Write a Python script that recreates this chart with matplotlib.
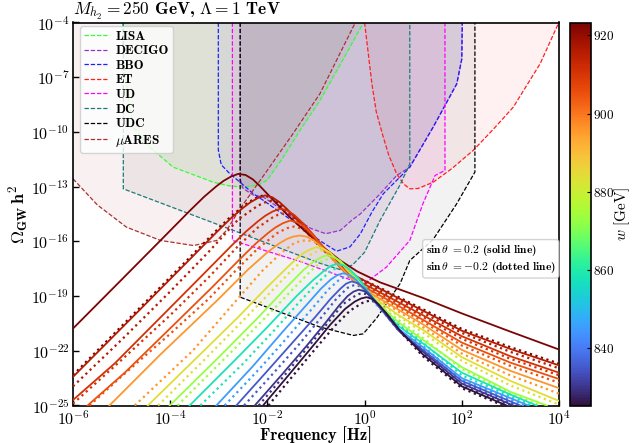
import numpy as np
import matplotlib
matplotlib.use("Agg")
import matplotlib.pyplot as plt
from matplotlib.colors import Normalize
from matplotlib.cm import ScalarMappable
from matplotlib.ticker import FixedLocator, FuncFormatter, NullLocator

plt.rcParams["mathtext.fontset"] = "cm"
plt.rcParams["font.family"] = "serif"
plt.rcParams["font.serif"] = ["cmb10", "DejaVu Serif"]
plt.rcParams["axes.unicode_minus"] = False

# --------------------------
# detector sensitivity curves (log10 f [Hz], log10 Omega h^2)
# --------------------------
LISA_f = [-4.98, -4.95, -4.86, -4.76, -4.42, -3.94, -3.39, -3.11, -2.8, -2.5, -2.2, -2.01, -1.7, -1.33, -0.92, -0.5, -0.03]
LISA_om = [-4.0, -6.45, -8.28, -9.74, -10.84, -11.93, -12.48, -12.76, -12.95, -13.03, -12.92, -12.66, -11.5, -9.92, -8.28, -6.3, -4.04]

DECIGO_f = [-2.56, -2.56, -2.5, -2.3, -2.08, -1.53, -1.1, -0.8, -0.5, -0.27, -0.09, 0.3, 0.66, 0.93, 1.41, 1.9, 2.0, 2.01]
DECIGO_om = [-4.0, -12.6, -13.1, -13.45, -13.58, -14.58, -15.3, -15.58, -15.4, -14.86, -14.5, -13.45, -12.39, -11.93, -9.74, -7.36, -6.0, -4.0]

BBO_f = [-3.01, -3.01, -2.95, -2.77, -2.5, -2.29, -2.08, -1.4, -0.9, -0.575, -0.3, -0.09, 0.15, 0.385, 0.93, 1.41, 1.895, 2.0, 2.01]
BBO_om = [-4.0, -11.0, -11.8, -12.3, -12.9, -13.39, -13.76, -15.04, -16.0, -16.54, -16.3, -15.6, -14.4, -13.39, -11.93, -9.74, -7.36, -6.0, -4.0]

ET_f = [0.0, 0.08, 0.15, 0.24, 0.385, 0.5, 0.66, 0.8, 0.93, 1.1, 1.41, 1.8, 2.24, 2.65, 3.06, 3.61, 3.99]
ET_om = [-4.0, -5.8, -7.36, -8.9, -10.29, -11.3, -12.3, -12.85, -13.12, -13.1, -12.76, -12.0, -11.0, -9.85, -8.64, -6.27, -4.04]

UD_f = [-2.72, -2.72, -1.33, -0.3, 0.04, 0.45, 0.93, 1.2, 1.45, 1.654, 1.654]
UD_om = [-4.0, -15.95, -17.1, -18.1, -18.24, -17.41, -15.95, -13.94, -12.39, -12.11, -4.0]

DC_f = [-4.965, -4.965, -2.7, -0.92, -0.5, -0.25, 0.0, 0.317, 0.73, 0.93, 0.93]
DC_om = [-4.0, -13.12, -15.4, -17.2, -17.55, -17.3, -16.6, -14.86, -12.9, -11.75, -4.0]

UDC_f = [-2.56, -2.56, -0.918, -0.23, -0.027, 0.25, 0.73, 0.93, 1.41, 1.895, 2.27, 2.27]
UDC_om = [-4.0, -19.06, -20.7, -21.16, -21.07, -20.2, -18.32, -17.05, -15.9, -13.94, -12.2, -4.0]

MUARES_f = [-6.0, -5.5, -4.9, -4.2, -3.52, -3.04, -2.84, -2.56, -2.0, -1.5, -0.92, -0.19]
MUARES_om = [-12.57, -14.0, -15.22, -15.95, -16.23, -15.95, -15.4, -14.2, -12.1, -10.2, -7.91, -4.0]

# --------------------------
# GW spectra, one per w [GeV]; solid: sin(theta)=0.2, dotted: sin(theta)=-0.2
# --------------------------
W_VALUES = [923, 916, 911, 905, 896, 884, 873, 858, 845, 835, 830, 825.5]
W_MIN, W_MAX = 825.4, 923.3

f_923 = [-6.0, -5.0, -4.2, -3.6, -3.3, -3.05, -2.9, -2.75, -2.6, -2.45, -2.3, -2.15, -1.9, -1.55, -1.2, -0.85, -0.5, -0.15, 0.32, 1.2, 2.0, 3.0, 4.0]
om_923 = [-20.78, -18.1, -15.95, -14.33, -13.55, -12.98, -12.68, -12.45, -12.3, -12.36, -12.6, -12.98, -13.68, -14.65, -15.5, -16.32, -17.05, -17.65, -18.25, -19.1, -19.95, -20.95, -21.93]
f_916 = [-6.0, -5.45, -4.45, -3.65, -3.05, -2.75, -2.5, -2.35, -2.2, -2.05, -1.9, -1.75, -1.6, -1.4, -1.2, -0.85, -0.5, -0.15, 0.32, 1.2, 2.0, 3.0, 4.0]
om_916 = [-23.43, -21.96, -19.28, -17.13, -15.51, -14.73, -14.16, -13.86, -13.63, -13.48, -13.58, -13.85, -14.22, -14.78, -15.35, -16.38, -17.25, -17.95, -18.6, -19.8, -20.9, -21.9, -22.8]
f_911 = [-6.0, -5.14, -4.14, -3.34, -2.74, -2.44, -2.19, -2.04, -1.89, -1.74, -1.6, -1.45, -1.25, -1.05, -0.85, -0.5, -0.15, 0.32, 1.2, 2.0, 3.0, 4.0]
om_911 = [-24.7, -22.69, -20.01, -17.86, -16.24, -15.46, -14.89, -14.59, -14.36, -14.21, -14.3, -14.55, -15.05, -15.65, -16.3, -17.35, -18.15, -18.8, -20.05, -21.2, -22.3, -23.2]
f_905 = [-5.7, -4.935, -3.935, -3.135, -2.535, -2.235, -1.985, -1.835, -1.685, -1.535, -1.4, -1.25, -1.05, -0.85, -0.5, -0.15, 0.32, 1.2, 2.0, 3.0, 4.0]
om_905 = [-25.0, -23.2, -20.6, -18.51, -16.89, -16.11, -15.54, -15.24, -15.01, -14.86, -14.94, -15.18, -15.7, -16.35, -17.45, -18.3, -18.97, -20.3, -21.55, -22.65, -23.55]
f_896 = [-5.25, -4.2, -3.0, -2.4, -2.0, -1.75, -1.6, -1.47, -1.33, -1.2, -1.05, -0.85, -0.6, -0.3, 0.0, 0.32, 1.2, 2.0, 3.0, 4.0]
om_896 = [-25.0, -22.2, -19.15, -17.55, -16.6, -16.1, -15.87, -15.74, -15.68, -15.74, -15.93, -16.4, -17.1, -17.95, -18.65, -19.15, -20.55, -21.95, -23.1, -24.05]
f_884 = [-4.46, -3.5, -2.6, -2.0, -1.6, -1.4, -1.25, -1.12, -0.99, -0.87, -0.72, -0.5, -0.3, 0.0, 0.32, 0.7, 1.2, 2.0, 3.0, 4.0]
om_884 = [-25.0, -22.5, -20.15, -18.5, -17.45, -16.95, -16.63, -16.44, -16.32, -16.38, -16.6, -17.15, -17.75, -18.7, -19.33, -20.05, -20.85, -22.35, -23.65, -24.75]
f_873 = [-4.01, -3.0, -2.2, -1.6, -1.25, -1.05, -0.9, -0.78, -0.66, -0.5, -0.3, -0.1, 0.1, 0.32, 0.7, 1.2, 2.0, 3.0, 3.75]
om_873 = [-25.0, -22.35, -20.2, -18.5, -17.55, -17.12, -16.88, -16.77, -16.83, -17.07, -17.6, -18.25, -18.9, -19.5, -20.45, -21.4, -22.9, -24.25, -25.0]
f_858 = [-3.6, -2.7, -2.0, -1.4, -1.05, -0.85, -0.7, -0.57, -0.45, -0.3, -0.1, 0.1, 0.32, 0.7, 1.2, 2.0, 3.0, 3.54]
om_858 = [-25.0, -22.6, -20.7, -19.0, -18.1, -17.65, -17.35, -17.23, -17.3, -17.55, -18.1, -18.85, -19.6, -20.65, -21.6, -23.2, -24.4, -25.0]
f_845 = [-3.05, -2.3, -1.7, -1.2, -0.9, -0.7, -0.56, -0.44, -0.32, -0.18, 0.0, 0.15, 0.32, 0.7, 1.2, 2.0, 3.37]
om_845 = [-25.0, -22.85, -21.0, -19.5, -18.6, -18.1, -17.85, -17.75, -17.82, -18.1, -18.65, -19.15, -19.65, -20.8, -21.8, -23.5, -25.0]
f_835 = [-2.64, -2.0, -1.5, -1.0, -0.7, -0.5, -0.38, -0.27, -0.15, -0.02, 0.12, 0.32, 0.7, 1.2, 2.0, 3.2]
om_835 = [-25.0, -23.1, -21.6, -20.1, -19.15, -18.6, -18.32, -18.2, -18.28, -18.55, -18.95, -19.65, -20.9, -21.95, -23.65, -25.0]
f_830 = [-2.26, -1.7, -1.2, -0.8, -0.52, -0.35, -0.23, -0.12, 0.0, 0.12, 0.3, 0.5, 0.8, 1.2, 2.0, 3.06]
om_830 = [-25.0, -23.3, -21.75, -20.45, -19.5, -19.0, -18.76, -18.65, -18.74, -19.0, -19.5, -20.2, -21.15, -22.05, -23.8, -25.0]
f_825 = [-2.09, -1.6, -1.1, -0.7, -0.4, -0.2, -0.07, 0.04, 0.15, 0.28, 0.45, 0.73, 1.2, 2.0, 2.92]
om_825 = [-25.0, -23.45, -21.85, -20.55, -19.7, -19.3, -19.13, -19.06, -19.15, -19.45, -19.95, -20.9, -22.2, -23.95, -25.0]

fd_923 = [-6.0, -5.49, -4.49, -3.69, -3.09, -2.79, -2.54, -2.39, -2.24, -2.09, -1.94, -1.79, -1.64, -1.44, -1.24, -0.89, -0.5, -0.15, 0.32, 1.2, 2.0, 3.0, 4.0]
omd_923 = [-23.33, -21.96, -19.28, -17.13, -15.51, -14.73, -14.16, -13.86, -13.63, -13.48, -13.58, -13.85, -14.22, -14.78, -15.35, -16.38, -17.3, -17.98, -18.55, -19.72, -20.8, -21.8, -22.7]
fd_916 = [-6.0, -5.0, -4.0, -3.2, -2.6, -2.2, -2.05, -1.93, -1.8, -1.6, -1.2, -0.85, -0.3, 0.32, 1.2, 2.0, 3.0, 4.0]
omd_916 = [-23.95, -21.4, -18.75, -16.55, -14.8, -14.05, -13.86, -13.78, -13.88, -14.32, -15.3, -16.4, -17.8, -18.7, -19.92, -21.02, -22.06, -22.96]
fd_911 = [-6.0, -5.0, -4.0, -3.2, -2.6, -2.2, -1.9, -1.78, -1.66, -1.52, -1.4, -1.1, -0.85, -0.3, 0.32, 1.2, 2.0, 3.0, 4.0]
omd_911 = [-24.9, -22.5, -20.05, -17.95, -16.25, -15.25, -14.7, -14.54, -14.47, -14.57, -14.8, -15.6, -16.41, -17.88, -18.87, -20.15, -21.34, -22.44, -23.34]
fd_905 = [-5.66, -5.0, -4.0, -3.2, -2.6, -2.2, -1.8, -1.6, -1.45, -1.3, -1.2, -0.85, -0.3, 0.32, 1.2, 2.0, 3.0, 4.0]
omd_905 = [-25.0, -23.4, -21.07, -19.13, -17.46, -16.4, -15.55, -15.28, -15.19, -15.3, -15.5, -16.45, -17.95, -19.04, -20.4, -21.71, -22.83, -23.75]
fd_896 = [-4.73, -3.53, -2.64, -2.1, -1.7, -1.45, -1.32, -1.2, -1.08, -0.98, -0.75, -0.3, 0.32, 1.2, 2.0, 3.0, 4.0]
omd_896 = [-25.0, -21.98, -19.24, -17.6, -16.6, -16.1, -15.98, -15.94, -15.99, -16.1, -16.7, -17.98, -19.22, -20.7, -22.15, -23.35, -24.35]
fd_884 = [-4.25, -3.3, -2.45, -1.85, -1.45, -1.15, -1.02, -0.9, -0.8, -0.7, -0.45, -0.2, 0.32, 1.2, 2.0, 3.0, 4.0]
omd_884 = [-25.0, -22.5, -20.2, -18.55, -17.45, -16.8, -16.6, -16.5, -16.54, -16.65, -17.25, -18.1, -19.42, -21.0, -22.55, -23.9, -24.95]
fd_873 = [-3.85, -2.85, -2.05, -1.45, -1.1, -0.88, -0.78, -0.7, -0.6, -0.52, -0.3, -0.1, 0.32, 1.2, 2.0, 3.0, 3.62]
omd_873 = [-25.0, -22.35, -20.2, -18.55, -17.6, -17.1, -16.99, -16.95, -16.99, -17.1, -17.65, -18.3, -19.55, -21.3, -23.0, -24.35, -25.0]
fd_858 = [-3.38, -2.5, -1.85, -1.3, -0.92, -0.68, -0.6, -0.52, -0.44, -0.35, -0.15, 0.05, 0.32, 1.2, 2.0, 3.45]
omd_858 = [-25.0, -22.7, -20.85, -19.2, -18.15, -17.6, -17.49, -17.45, -17.49, -17.58, -18.1, -18.75, -19.62, -21.55, -23.35, -25.0]
fd_845 = [-2.88, -2.15, -1.6, -1.1, -0.75, -0.52, -0.44, -0.37, -0.29, -0.2, -0.02, 0.15, 0.32, 1.2, 2.0, 3.28]
omd_845 = [-25.0, -22.95, -21.3, -19.75, -18.65, -18.1, -17.99, -17.95, -17.99, -18.1, -18.6, -19.2, -19.68, -21.75, -23.55, -25.0]
fd_835 = [-2.48, -1.85, -1.35, -0.9, -0.58, -0.35, -0.27, -0.2, -0.12, -0.05, 0.12, 0.35, 0.7, 1.2, 2.0, 3.13]
omd_835 = [-25.0, -23.15, -21.65, -20.2, -19.15, -18.55, -18.44, -18.4, -18.44, -18.55, -19.0, -19.75, -20.9, -21.9, -23.7, -25.0]
fd_830 = [-2.18, -1.65, -1.15, -0.75, -0.45, -0.2, -0.12, -0.05, 0.03, 0.1, 0.3, 0.5, 0.8, 1.2, 2.0, 3.0]
omd_830 = [-25.0, -23.35, -21.75, -20.45, -19.45, -19.0, -18.89, -18.85, -18.89, -19.0, -19.5, -20.2, -21.1, -22.1, -23.9, -25.0]
fd_825 = [-1.98, -1.5, -1.0, -0.6, -0.3, -0.05, 0.04, 0.12, 0.2, 0.28, 0.48, 0.8, 1.2, 2.0, 2.85]
omd_825 = [-25.0, -23.45, -21.85, -20.6, -19.8, -19.38, -19.29, -19.25, -19.3, -19.45, -20.05, -21.15, -22.3, -24.05, -25.0]

X_TICKS = [-6, -4, -2, 0, 2, 4]
Y_TICKS = [-25, -22, -19, -16, -13, -10, -7, -4]
CBAR_TICKS = [840, 860, 880, 900, 920]


def p10(v):
    return 10.0 ** np.asarray(v, dtype=float)


def main():
    fig = plt.figure(figsize=(6.33, 4.43), dpi=100)
    ax = fig.add_axes([73 / 633, 1 - 405.5 / 443, 486 / 633, 383 / 443])
    cax = fig.add_axes([570 / 633, 1 - 405.5 / 443, 20.5 / 633, 383 / 443])

    # detectors: (label, f, om, line colour, fill colour, fill alpha)
    detectors = [
        ("LISA", LISA_f, LISA_om, "#33ff33", "#33cc33", 0.08),
        ("DECIGO", DECIGO_f, DECIGO_om, "#9932cc", "#8a70b8", 0.14),
        ("BBO", BBO_f, BBO_om, "#2020ff", "#4060d0", 0.07),
        ("ET", ET_f, ET_om, "#ff2020", "#ff4040", 0.07),
        ("UD", UD_f, UD_om, "#ff00ff", "#e040e0", 0.08),
        ("DC", DC_f, DC_om, "#1a7a7a", "#808080", 0.1),
        ("UDC", UDC_f, UDC_om, "#000000", "#808080", 0.1),
        (r"$\mu$ARES", MUARES_f, MUARES_om, "#a83232", "#b04040", 0.07),
    ]
    for label, fx, fy, lc, fc, alpha in detectors:
        px, py = list(fx), list(fy)
        if fx[0] <= -5.99:  # curve leaves through the left edge: close via corner
            px = [-6.0] + px
            py = [-4.0] + py
        ax.fill(p10(px), p10(py), color=fc, alpha=alpha, lw=0, zorder=0)
        ax.plot(p10(fx), p10(fy), ls=(0, (3.5, 1.5)), lw=0.9, color=lc,
                label=label, zorder=1)

    cmap = plt.get_cmap("turbo")
    norm = Normalize(vmin=W_MIN, vmax=W_MAX)
    solid = [(f_923, om_923), (f_916, om_916), (f_911, om_911), (f_905, om_905),
             (f_896, om_896), (f_884, om_884), (f_873, om_873), (f_858, om_858),
             (f_845, om_845), (f_835, om_835), (f_830, om_830), (f_825, om_825)]
    dotted = [(fd_923, omd_923), (fd_916, omd_916), (fd_911, omd_911), (fd_905, omd_905),
              (fd_896, omd_896), (fd_884, omd_884), (fd_873, omd_873), (fd_858, omd_858),
              (fd_845, omd_845), (fd_835, omd_835), (fd_830, omd_830), (fd_825, omd_825)]
    for w, (fs, os_), (fd, od) in zip(W_VALUES, solid, dotted):
        c = cmap(norm(w))
        ax.plot(p10(fd), p10(od), ls=(0, (1, 1.6)), lw=1.6, color=c, zorder=3)
        ax.plot(p10(fs), p10(os_), ls="-", lw=1.3, color=c, zorder=4)

    ax.set_xscale("log")
    ax.set_yscale("log")
    ax.set_xlim(1e-6, 1e4)
    ax.set_ylim(1e-25, 1e-4)
    ax.xaxis.set_major_locator(FixedLocator(p10(X_TICKS)))
    ax.yaxis.set_major_locator(FixedLocator(p10(Y_TICKS)))
    ax.xaxis.set_minor_locator(NullLocator())
    ax.yaxis.set_minor_locator(NullLocator())
    fmt = FuncFormatter(lambda v, pos: r"$\mathbf{10^{%d}}$" % round(np.log10(v)))
    ax.xaxis.set_major_formatter(fmt)
    ax.yaxis.set_major_formatter(fmt)
    ax.tick_params(direction="in", length=4, width=1, labelsize=11.5, pad=2.5)
    for s in ax.spines.values():
        s.set_linewidth(1.2)

    ax.set_xlabel("Frequency [Hz]", fontsize=12, labelpad=-1)
    ax.set_ylabel(r"$\mathbf{\Omega_{GW}\,h^2}$", fontsize=13, labelpad=1)
    ax.set_title(r"$M_{h_2} = \mathbf{250}$ GeV, $\mathbf{\Lambda = 1}$ TeV",
                 fontsize=12.5, loc="left", pad=1)

    ax.legend(loc="upper left", fontsize=9.5, handlelength=1.75, labelspacing=0.18,
              borderpad=0.3, handletextpad=0.65, borderaxespad=0.3, framealpha=0.8,
              edgecolor="#cccccc", fancybox=True, bbox_to_anchor=(0.006, 1.0))

    ax.text(0.726, 0.383,
            r"$\mathbf{sin}\,\theta\ \mathbf{= 0.2}$ (solid line)" + "\n"
            r"$\mathbf{sin}\,\theta\ \mathbf{= -0.2}$ (dotted line)",
            transform=ax.transAxes, fontsize=8.3, va="center", ha="left",
            linespacing=1.2,
            bbox=dict(boxstyle="round,pad=0.28", fc="white", ec="#cccccc", alpha=0.85),
            zorder=6)

    sm = ScalarMappable(norm=norm, cmap=cmap)
    cb = fig.colorbar(sm, cax=cax)
    cb.set_ticks(CBAR_TICKS)
    cb.set_ticklabels([r"$\mathbf{%d}$" % t for t in CBAR_TICKS])
    cb.ax.tick_params(direction="in", length=3, labelsize=9.5, pad=2)
    cb.outline.set_linewidth(1.2)
    cb.set_label(r"$w\ \mathrm{[GeV]}$", fontsize=11, labelpad=-1.5)

    fig.savefig("out.png", dpi=100)
    plt.close(fig)


if __name__ == "__main__":
    main()
